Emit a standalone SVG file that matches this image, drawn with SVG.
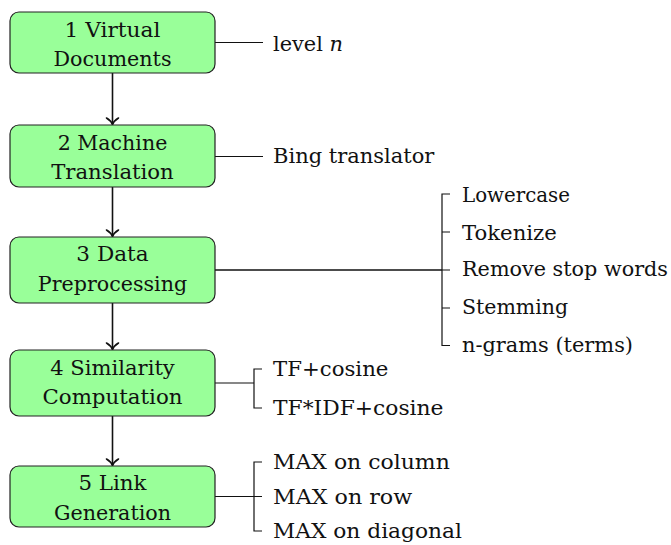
<svg xmlns="http://www.w3.org/2000/svg" width="671" height="545" viewBox="0 0 671 545">
<style>
.box{fill:#99ff99;stroke:#222;stroke-width:1.2}
.c{text-anchor:middle}
.ln{fill:none;stroke:#111;stroke-width:1.2}
.ar{fill:none;stroke:#111;stroke-width:1.6}
.f{font-family:'DejaVu Serif','Liberation Serif',serif;font-size:21px;fill:#111}
</style>
<defs>
<marker id="to" markerUnits="userSpaceOnUse" markerWidth="18" markerHeight="18" refX="13.5" refY="9" orient="auto">
<path d="M7,3 Q10,7.8 13.5,9 Q10,10.2 7,15" fill="none" stroke="#111" stroke-width="1.6" stroke-linecap="round"/>
</marker>
</defs>
<rect width="671" height="545" fill="#fff"/>
<g id="connectors">
<line class="ar" x1="112.5" y1="73" x2="112.5" y2="124.5" marker-end="url(#to)"/>
<line class="ar" x1="112.5" y1="187" x2="112.5" y2="236.5" marker-end="url(#to)"/>
<line class="ar" x1="112.5" y1="303" x2="112.5" y2="349.5" marker-end="url(#to)"/>
<line class="ar" x1="112.5" y1="416" x2="112.5" y2="465.5" marker-end="url(#to)"/>
<line class="ln" x1="215" y1="42.5" x2="263" y2="42.5"/>
<line class="ln" x1="215" y1="156.5" x2="263" y2="156.5"/>
<line class="ln" x1="215" y1="270" x2="442" y2="270" style="stroke-width:1.6"/>
<path class="ln" d="M450,194 H442 V345.5 H450 M442,232 H450 M442,270 H450 M442,308 H450"/>
<line class="ln" x1="215" y1="383" x2="254" y2="383"/>
<path class="ln" d="M262,369 H254 V408 H262"/>
<line class="ln" x1="215" y1="496.5" x2="254" y2="496.5"/>
<path class="ln" d="M262,462 H254 V531 H262 M254,496.5 H262"/>
</g>
<g class="f">
<g id="n1">
<rect class="box" x="10" y="12" width="205" height="61" rx="9"/>
<text class="c" x="112.5" y="36.5" textLength="96" lengthAdjust="spacingAndGlyphs">1 Virtual</text>
<text class="c" x="112.5" y="66" textLength="118" lengthAdjust="spacingAndGlyphs">Documents</text>
</g>
<g id="n2">
<rect class="box" x="10" y="125" width="205" height="62" rx="9"/>
<text class="c" x="112.5" y="149.5" textLength="109.6" lengthAdjust="spacingAndGlyphs">2 Machine</text>
<text class="c" x="112.5" y="179" textLength="122.6" lengthAdjust="spacingAndGlyphs">Translation</text>
</g>
<g id="n3">
<rect class="box" x="10" y="237" width="205" height="66" rx="9"/>
<text class="c" x="112.5" y="261" textLength="72.3" lengthAdjust="spacingAndGlyphs">3 Data</text>
<text class="c" x="112.5" y="290.5" textLength="149.4" lengthAdjust="spacingAndGlyphs">Preprocessing</text>
</g>
<g id="n4">
<rect class="box" x="10" y="350" width="205" height="66" rx="9"/>
<text class="c" x="112.5" y="374.5" textLength="124.5" lengthAdjust="spacingAndGlyphs">4 Similarity</text>
<text class="c" x="112.5" y="404" textLength="140" lengthAdjust="spacingAndGlyphs">Computation</text>
</g>
<g id="n5">
<rect class="box" x="10" y="466" width="205" height="61" rx="9"/>
<text class="c" x="112.5" y="490" textLength="68.2" lengthAdjust="spacingAndGlyphs">5 Link</text>
<text class="c" x="112.5" y="519.5" textLength="117.2" lengthAdjust="spacingAndGlyphs">Generation</text>
</g>
<g id="l1"><text x="273" y="51" textLength="70" lengthAdjust="spacingAndGlyphs">level <tspan font-style="italic">n</tspan></text></g>
<g id="l2"><text x="273" y="162.5" textLength="161.3" lengthAdjust="spacingAndGlyphs">Bing translator</text></g>
<g id="l3a"><text x="462" y="201.5" textLength="108" lengthAdjust="spacingAndGlyphs">Lowercase</text></g>
<g id="l3b"><text x="462" y="240" textLength="94.8" lengthAdjust="spacingAndGlyphs">Tokenize</text></g>
<g id="l3c"><text x="462" y="276" textLength="206" lengthAdjust="spacingAndGlyphs">Remove stop words</text></g>
<g id="l3d"><text x="462" y="314" textLength="106.2" lengthAdjust="spacingAndGlyphs">Stemming</text></g>
<g id="l3e"><text x="462" y="351.5" textLength="171" lengthAdjust="spacingAndGlyphs">n-grams (terms)</text></g>
<g id="l4a"><text x="273" y="376" textLength="115.4" lengthAdjust="spacingAndGlyphs">TF+cosine</text></g>
<g id="l4b"><text x="273" y="415" textLength="170.5" lengthAdjust="spacingAndGlyphs">TF*IDF+cosine</text></g>
<g id="l5a"><text x="273" y="469" textLength="176.8" lengthAdjust="spacingAndGlyphs">MAX on column</text></g>
<g id="l5b"><text x="273" y="503.5" textLength="139.2" lengthAdjust="spacingAndGlyphs">MAX on row</text></g>
<g id="l5c"><text x="273" y="537.5" textLength="188.9" lengthAdjust="spacingAndGlyphs">MAX on diagonal</text></g>
</g>
</svg>
